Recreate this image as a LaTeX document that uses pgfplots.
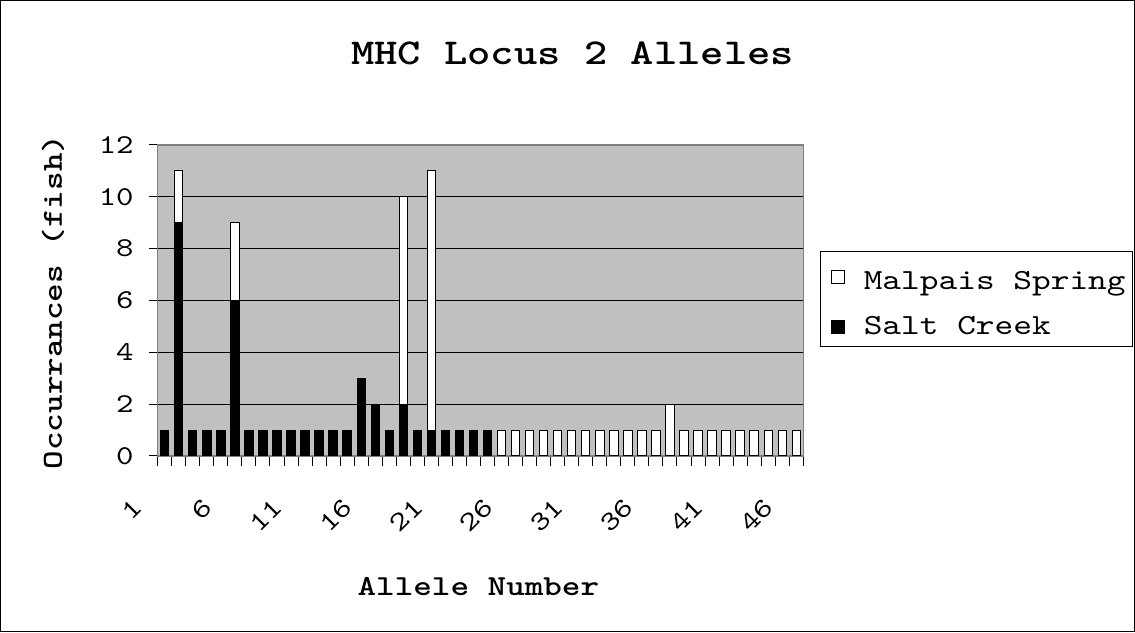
\documentclass[border=0pt]{standalone}
\usepackage{pgfplots}
\pgfplotsset{compat=1.18}
\usepackage{fontspec}
\newfontfamily\cour[Extension=.otf, BoldFont=lmmonolt10-bold, FakeStretch=1.22]{lmmono10-regular}
\definecolor{plotgray}{RGB}{192,192,192}
\definecolor{bordergray}{RGB}{128,128,128}

\pgfplotstableread{
x salt malpais
1 1 0
2 9 2
3 1 0
4 1 0
5 1 0
6 6 3
7 1 0
8 1 0
9 1 0
10 1 0
11 1 0
12 1 0
13 1 0
14 1 0
15 3 0
16 2 0
17 1 0
18 2 8
19 1 0
20 1 10
21 1 0
22 1 0
23 1 0
24 1 0
25 0 1
26 0 1
27 0 1
28 0 1
29 0 1
30 0 1
31 0 1
32 0 1
33 0 1
34 0 1
35 0 1
36 0 1
37 0 2
38 0 1
39 0 1
40 0 1
41 0 1
42 0 1
43 0 1
44 0 1
45 0 1
46 0 1
}\alleles

\begin{document}
\begin{tikzpicture}[x=1pt,y=1pt]
\useasboundingbox (0,0) rectangle (567.5,316);
\draw[line width=0.6pt] (0.3,0.3) rectangle (567.2,315.7);
\node[anchor=base, font=\cour\fontsize{18.2}{22}\selectfont\bfseries] at (286.25,283.5) {MHC Locus 2 Alleles};
\node[anchor=base, font=\cour\fontsize{14.5}{18}\selectfont\bfseries] at (239.2,18.5) {Allele Number};
\node[anchor=base, rotate=90, font=\cour\fontsize{14.5}{18}\selectfont\bfseries] at (31,165) {Occurrances (fish)};
\begin{axis}[
  at={(78.85pt,88pt)}, anchor=south west, scale only axis,
  width=322.8pt, height=155.5pt,
  ybar stacked, bar width=4.2pt,
  xmin=0.5, xmax=46.5, ymin=0, ymax=12,
  ytick={0,2,...,12},
  xtick={1,6,...,46},
  minor xtick={0.5,1.5,...,46.5},
  tick pos=left,
  tick align=outside,
  major tick length=4.5pt, minor tick length=5pt,
  major x tick style={draw=none},
  tick style={black, line width=0.5pt},
  minor tick style={black, line width=0.5pt},
  ymajorgrids, grid style={black, line width=0.5pt},
  axis background/.style={fill=plotgray},
  axis line style={draw=bordergray, line width=0.6pt},
  /pgf/number format/assume math mode=true,
  ticklabel style={font=\cour\fontsize{13.6}{17}\selectfont},
  yticklabel style={anchor=east, xshift=-4pt},
  xticklabel style={xshift=-11pt, yshift=-16.5pt, rotate=45, anchor=east},
  legend style={at={(1.0263,0.659)}, anchor=north west, draw=black, line width=0.5pt, fill=white,
    font=\cour\fontsize{14.6}{18}\selectfont, row sep=8pt, inner xsep=1.5pt, inner ysep=2.5pt,
    cells={anchor=west}},
  legend image code/.code={\path (-3.5pt,0) (14pt,0); \draw[#1, line width=0.5pt] (0pt,-3.25pt) rectangle (6.5pt,3.25pt);},
  reverse legend,
]
\addplot[fill=black, draw=black, line width=0.5pt] table[x=x, y=salt] {\alleles};
\addlegendentry{Salt Creek}
\addplot[fill=white, draw=black, line width=0.5pt] table[x=x, y=malpais] {\alleles};
\addlegendentry{\rule{0pt}{14.5pt}Malpais Spring}
\end{axis}
\end{tikzpicture}
\end{document}
